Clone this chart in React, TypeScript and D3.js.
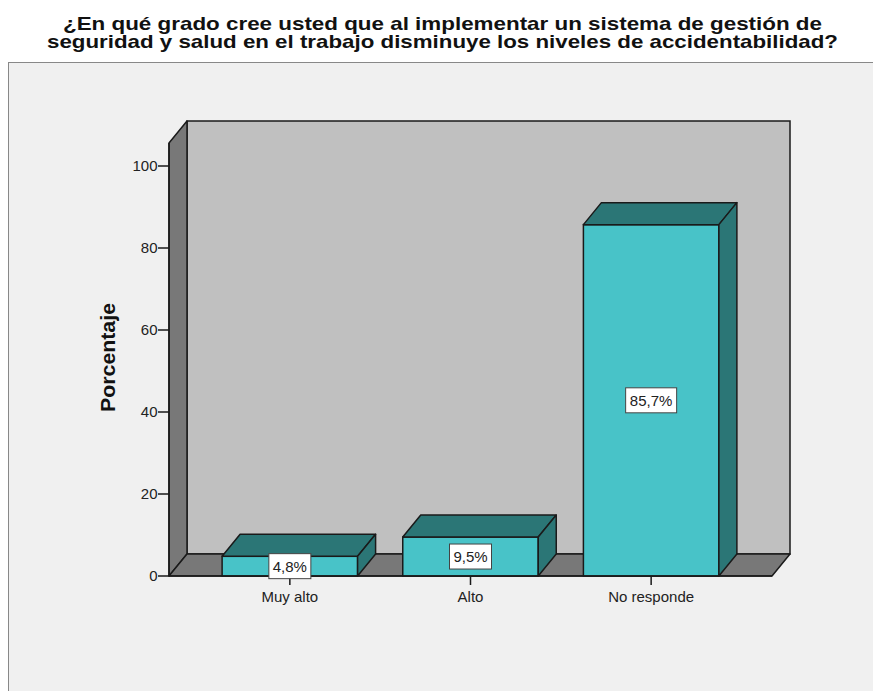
import * as d3 from 'd3'

const TITLE_LINES = [
  '¿En qué grado cree usted que al implementar un sistema de gestión de',
  'seguridad y salud en el trabajo disminuye los niveles de accidentabilidad?',
]
const CATEGORIES = ['Muy alto', 'Alto', 'No responde']
const VALUES = [4.8, 9.5, 85.7]
const Y_TICKS = [0, 20, 40, 60, 80, 100]
const Y_LABEL = 'Porcentaje'

const W = 873
const H = 691
const FONT = 'Arial, "Liberation Sans", sans-serif'

// plot geometry (front plane)
const X0 = 169
const X1 = 772
const Y_ZERO = 576
const Y_TOP = 143
const DX = 18
const DY = 22

const FRONT = '#48c3c8'
const DARK = '#2b7676'
const WALL = '#c0c0c0'
const SIDE = '#787878'
const STROKE = '#1a1a1a'

export default function App() {
  const y = d3.scaleLinear().domain([0, 100]).range([Y_ZERO, 166])
  const x = d3.scaleBand<string>()
    .domain(CATEGORIES)
    .range([X0, X1])
    .paddingInner(0.25)
    .paddingOuter(0.294)

  const pts = (a: number[][]) => a.map(p => p.join(',')).join(' ')

  return (
    <svg width={W} height={H} style={{ position: 'absolute', left: 0, top: 0, background: '#fff' }}>
      {/* outer frame */}
      <rect x={8.5} y={62.5} width={W} height={H} fill="#f0f0f0" stroke="#888" strokeWidth={1} />

      {/* title */}
      <text textAnchor="middle" fontFamily={FONT} fontWeight="bold" fontSize={19} fill="#111">
        <tspan x={442.5} y={30} textLength={759} lengthAdjust="spacingAndGlyphs">{TITLE_LINES[0]}</tspan>
      </text>
      <text textAnchor="middle" fontFamily={FONT} fontWeight="bold" fontSize={19} fill="#111">
        <tspan x={442.5} y={47.5} textLength={791} lengthAdjust="spacingAndGlyphs">{TITLE_LINES[1]}</tspan>
      </text>

      {/* back wall */}
      <rect x={X0 + DX} y={Y_TOP - DY} width={X1 - X0} height={Y_ZERO - Y_TOP} fill={WALL} stroke={STROKE} strokeWidth={1.5} />
      {/* left wall */}
      <polygon
        points={pts([[X0, Y_TOP], [X0 + DX, Y_TOP - DY], [X0 + DX, Y_ZERO - DY], [X0, Y_ZERO]])}
        fill={SIDE} stroke={STROKE} strokeWidth={1.5} strokeLinejoin="round"
      />
      {/* floor */}
      <polygon
        points={pts([[X0, Y_ZERO], [X0 + DX, Y_ZERO - DY], [X1 + DX, Y_ZERO - DY], [X1, Y_ZERO]])}
        fill={SIDE} stroke={STROKE} strokeWidth={1.5} strokeLinejoin="round"
      />

      {/* bars */}
      {CATEGORIES.map((c, i) => {
        const bx = x(c)!
        const bw = x.bandwidth()
        const top = y(VALUES[i])
        return (
          <g key={c}>
            <rect x={bx} y={top} width={bw} height={Y_ZERO - top} fill={FRONT} stroke={STROKE} strokeWidth={1.5} />
            <polygon
              points={pts([[bx, top], [bx + DX, top - DY], [bx + bw + DX, top - DY], [bx + bw, top]])}
              fill={DARK} stroke={STROKE} strokeWidth={1.5} strokeLinejoin="round"
            />
            <polygon
              points={pts([[bx + bw, top], [bx + bw + DX, top - DY], [bx + bw + DX, Y_ZERO - DY], [bx + bw, Y_ZERO]])}
              fill={DARK} stroke={STROKE} strokeWidth={1.5} strokeLinejoin="round"
            />
          </g>
        )
      })}

      {/* x axis line */}
      <line x1={X0} x2={X1} y1={Y_ZERO} y2={Y_ZERO} stroke={STROKE} strokeWidth={1.5} />
      {/* y axis line */}
      <line x1={X0} x2={X0} y1={Y_TOP} y2={Y_ZERO} stroke={STROKE} strokeWidth={1.5} />

      {/* y ticks */}
      {Y_TICKS.map(t => (
        <g key={t}>
          <line x1={X0 - 11} x2={X0} y1={y(t)} y2={y(t)} stroke={STROKE} strokeWidth={1.5} />
          <text x={X0 - 11.5} y={y(t)} dy="0.36em" textAnchor="end" fontFamily={FONT} fontSize={15} fill="#222">{t}</text>
        </g>
      ))}
      <text
        transform={`translate(115,357.5) rotate(-90)`}
        textAnchor="middle" fontFamily={FONT} fontWeight="bold" fontSize={20} fill="#111"
        textLength={109} lengthAdjust="spacingAndGlyphs"
      >{Y_LABEL}</text>

      {/* x ticks and labels */}
      {CATEGORIES.map(c => {
        const cx = x(c)! + x.bandwidth() / 2
        return (
          <g key={c}>
            <line x1={cx} x2={cx} y1={Y_ZERO} y2={Y_ZERO + 9} stroke={STROKE} strokeWidth={1.5} />
            <text x={cx} y={601.5} textAnchor="middle" fontFamily={FONT} fontSize={15} fill="#222">{c}</text>
          </g>
        )
      })}

      {/* value labels */}
      {CATEGORIES.map((c, i) => {
        const cx = x(c)! + x.bandwidth() / 2
        const cy = (y(VALUES[i]) + Y_ZERO) / 2
        const label = VALUES[i].toFixed(1).replace('.', ',') + '%'
        const bw = label.length > 4 ? 51 : 42
        return (
          <g key={c}>
            <rect x={cx - bw / 2} y={cy - 12.5} width={bw} height={25} fill="#fff" stroke="#444" strokeWidth={1} />
            <text x={cx} y={cy} dy="0.36em" textAnchor="middle" fontFamily={FONT} fontSize={15} fill="#222">{label}</text>
          </g>
        )
      })}
    </svg>
  )
}
